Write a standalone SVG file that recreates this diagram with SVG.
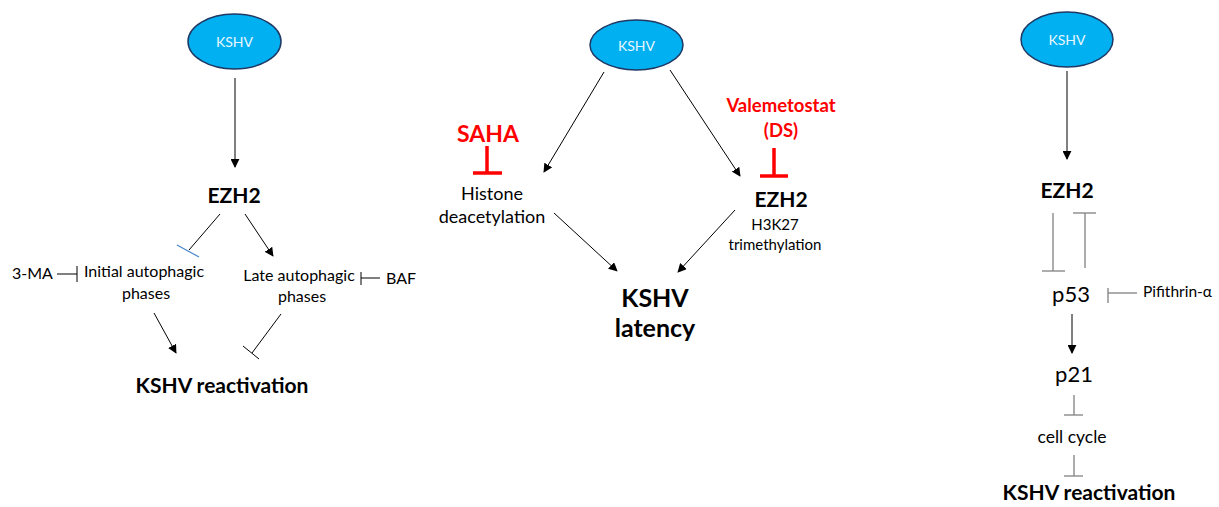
<svg xmlns="http://www.w3.org/2000/svg" width="1219" height="507" viewBox="0 0 1219 507">
  <style>
    text { font-family: Lato, "Open Sans", "Liberation Sans", sans-serif; fill: #000; }
    .virus ellipse { fill: #00B0F0; stroke: #1F3864; stroke-width: 1.5; }
    .virus text { fill: #EAF6FF; font-size: 14px; text-anchor: middle; }
    .head { font-weight: bold; font-size: 21px; text-anchor: middle; }
    .big { font-weight: bold; font-size: 25px; text-anchor: middle; }
    .lbl { font-size: 16px; text-anchor: middle; }
    .mid { font-size: 18px; text-anchor: middle; }
    .start { text-anchor: start; }
    .drug { fill: #FF0000; font-weight: bold; text-anchor: middle; }
    .ln { stroke: #000; stroke-width: 1; fill: none; }
    .arr { stroke: #000; stroke-width: 1; fill: none; marker-end: url(#ah); }
    .grey { stroke: #808080; stroke-width: 1.3; fill: none; }
    .red { stroke: #FF0000; stroke-width: 3.5; fill: none; }
  </style>
  <defs>
    <marker id="ah" viewBox="0 0 10 10" refX="9" refY="5" markerWidth="9" markerHeight="9" markerUnits="userSpaceOnUse" orient="auto">
      <path d="M0,0 L10,5 L0,10 z" fill="#000"/>
    </marker>
  </defs>

  <!-- Panel A: EZH2 and autophagy -->
  <g id="kshv-a" class="virus">
    <ellipse cx="234.5" cy="41.5" rx="46.5" ry="27.5"/>
    <text x="234.5" y="47">KSHV</text>
  </g>
  <g id="ezh2-a"><text class="head" x="234" y="203">EZH2</text></g>
  <g id="initial-auto">
    <text class="lbl" x="144" y="277">Initial autophagic</text>
    <text class="lbl" x="146" y="299">phases</text>
  </g>
  <g id="late-auto">
    <text class="lbl" x="299" y="281">Late autophagic</text>
    <text class="lbl" x="302" y="302">phases</text>
  </g>
  <g id="ma3"><text class="lbl start" x="12" y="279">3-MA</text></g>
  <g id="baf"><text class="lbl start" x="386" y="284">BAF</text></g>
  <g id="reactivation-a"><text class="head" x="222" y="393">KSHV reactivation</text></g>

  <!-- Panel B: latency -->
  <g id="kshv-b" class="virus">
    <ellipse cx="636.5" cy="45" rx="46.5" ry="25"/>
    <text x="636.5" y="50.5">KSHV</text>
  </g>
  <g id="saha"><text class="drug" x="488" y="142" font-size="23">SAHA</text></g>
  <g id="valemetostat">
    <text class="drug" x="781" y="112" font-size="18.5">Valemetostat</text>
    <text class="drug" x="781" y="137" font-size="18.5">(DS)</text>
  </g>
  <g id="histone">
    <text class="mid" x="492" y="200">Histone</text>
    <text class="mid" x="492" y="223">deacetylation</text>
  </g>
  <g id="ezh2-b">
    <text class="head" x="781" y="207">EZH2</text>
    <text class="lbl" x="775" y="230" style="font-size:15px">H3K27</text>
    <text class="lbl" x="775" y="250" style="font-size:15px">trimethylation</text>
  </g>
  <g id="latency">
    <text class="big" x="655" y="307">KSHV</text>
    <text class="big" x="655" y="337">latency</text>
  </g>

  <!-- Panel C: p53 axis -->
  <g id="kshv-c" class="virus">
    <ellipse cx="1067" cy="39.5" rx="46" ry="27.5"/>
    <text x="1067" y="45">KSHV</text>
  </g>
  <g id="ezh2-c"><text class="head" x="1067" y="198">EZH2</text></g>
  <g id="p53"><text class="lbl" x="1071" y="302" style="font-size:22px">p53</text></g>
  <g id="pifithrin"><text class="start" x="1143" y="297" style="font-size:15.5px">Pifithrin-α</text></g>
  <g id="p21"><text class="lbl" x="1074" y="382" style="font-size:22px">p21</text></g>
  <g id="cellcycle"><text class="lbl" x="1072" y="443" style="font-size:17.5px">cell cycle</text></g>
  <g id="reactivation-c"><text class="head" x="1089" y="500">KSHV reactivation</text></g>

  <g id="connectors">
    <!-- panel A -->
    <line class="arr" x1="235" y1="78" x2="235" y2="167"/>
    <line class="ln" x1="220" y1="214" x2="189" y2="250"/>
    <line x1="177" y1="245" x2="199" y2="257" stroke="#4A86C8" stroke-width="1.2"/>
    <line class="arr" x1="245" y1="214" x2="273" y2="256"/>
    <line class="ln" x1="57" y1="274" x2="77" y2="274"/>
    <line class="ln" x1="77" y1="266" x2="77" y2="282"/>
    <line class="ln" x1="361" y1="278" x2="380" y2="278"/>
    <line class="ln" x1="361" y1="272" x2="361" y2="285"/>
    <line class="arr" x1="154" y1="313" x2="176" y2="353"/>
    <line class="ln" x1="281" y1="314" x2="252" y2="353"/>
    <line class="ln" x1="243" y1="346" x2="259" y2="359"/>
    <!-- panel B -->
    <line class="arr" x1="604" y1="72" x2="544" y2="172"/>
    <line class="arr" x1="670" y1="70" x2="740" y2="176"/>
    <line class="red" x1="487" y1="146" x2="487" y2="173"/>
    <line class="red" x1="473" y1="173" x2="502" y2="173"/>
    <line class="red" x1="774" y1="148" x2="774" y2="176"/>
    <line class="red" x1="760" y1="176" x2="788" y2="176"/>
    <line class="arr" x1="554" y1="213" x2="617" y2="271"/>
    <line class="arr" x1="735" y1="210" x2="678" y2="272"/>
    <!-- panel C -->
    <line class="arr" x1="1067" y1="71" x2="1067" y2="159"/>
    <line class="grey" x1="1053" y1="213" x2="1053" y2="271"/>
    <line class="grey" x1="1042" y1="271" x2="1065" y2="271"/>
    <line class="grey" x1="1085" y1="213" x2="1085" y2="268"/>
    <line class="grey" x1="1073" y1="213" x2="1096" y2="213"/>
    <line class="grey" x1="1108" y1="293" x2="1137" y2="293"/>
    <line class="grey" x1="1108" y1="288" x2="1108" y2="303"/>
    <line class="arr" x1="1072" y1="314" x2="1072" y2="353"/>
    <line class="grey" x1="1074" y1="395" x2="1074" y2="415"/>
    <line class="grey" x1="1064" y1="415" x2="1083" y2="415"/>
    <line class="grey" x1="1074" y1="455" x2="1074" y2="476"/>
    <line class="grey" x1="1064" y1="476" x2="1083" y2="476"/>
  </g>
</svg>
